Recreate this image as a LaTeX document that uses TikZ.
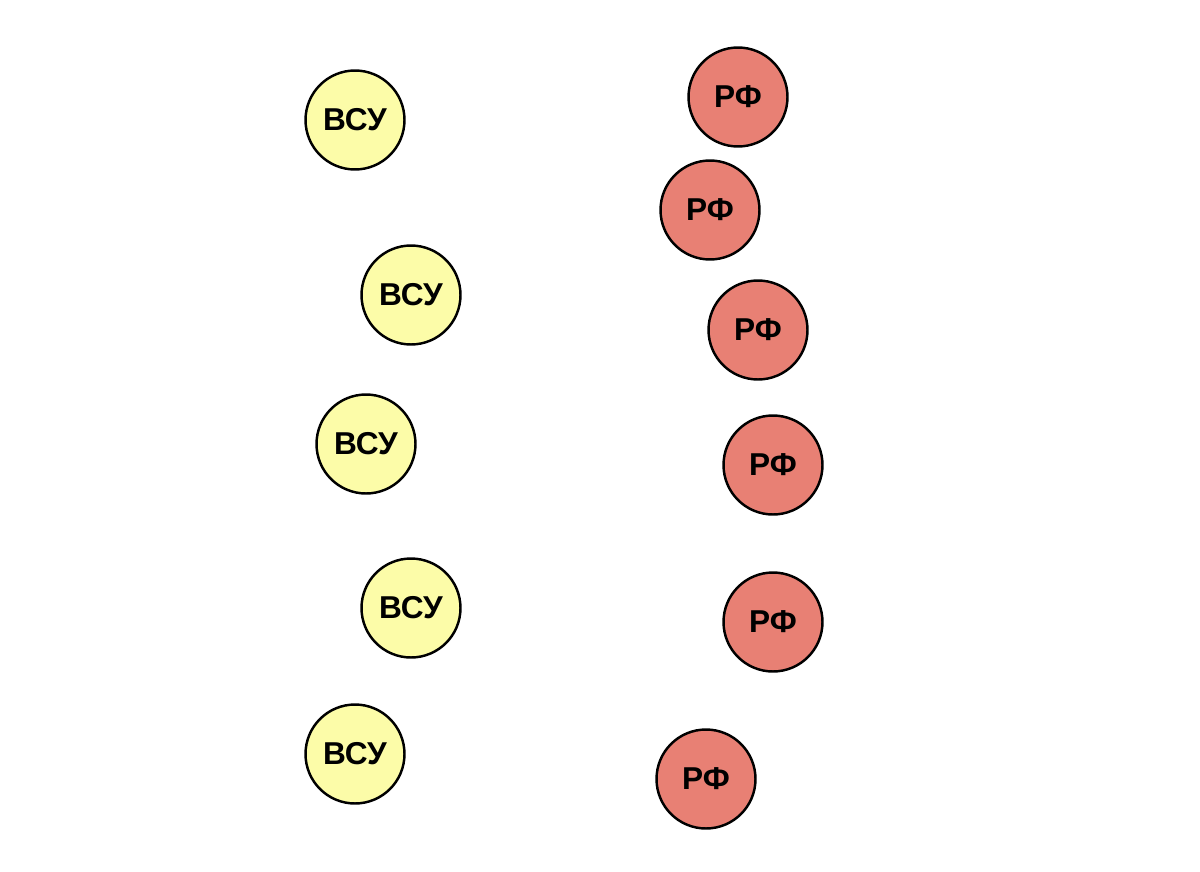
\documentclass[tikz,border=0pt]{standalone}
\usepackage{fontspec}
\setmainfont{Liberation Sans}
\usepackage{xcolor}
\usepackage{tikz}

\definecolor{vsuyellow}{RGB}{252,252,168}
\definecolor{rfred}{RGB}{232,128,116}

\begin{document}
\begin{tikzpicture}[
    x=0.02cm, y=-0.02cm,
    unit/.style={circle, draw=black, line width=1.4pt, minimum size=1.98cm, inner sep=0pt, align=center, font=\fontsize{18}{20}\selectfont\bfseries},
    vsu/.style={unit, fill=vsuyellow},
    rf/.style={unit, fill=rfred}
]
\useasboundingbox (0,0) rectangle (1200,872);

% Left column: ВСУ
\node[vsu] (vsu1) at (355,120) {ВСУ};
\node[vsu] (vsu2) at (411,295) {ВСУ};
\node[vsu] (vsu3) at (366,444) {ВСУ};
\node[vsu] (vsu4) at (411,608) {ВСУ};
\node[vsu] (vsu5) at (355,754) {ВСУ};

% Right column: РФ
\node[rf] (rf1) at (738,97) {РФ};
\node[rf] (rf2) at (710,210) {РФ};
\node[rf] (rf3) at (758,330) {РФ};
\node[rf] (rf4) at (773,465) {РФ};
\node[rf] (rf5) at (773,622) {РФ};
\node[rf] (rf6) at (706,779) {РФ};

\end{tikzpicture}
\end{document}
